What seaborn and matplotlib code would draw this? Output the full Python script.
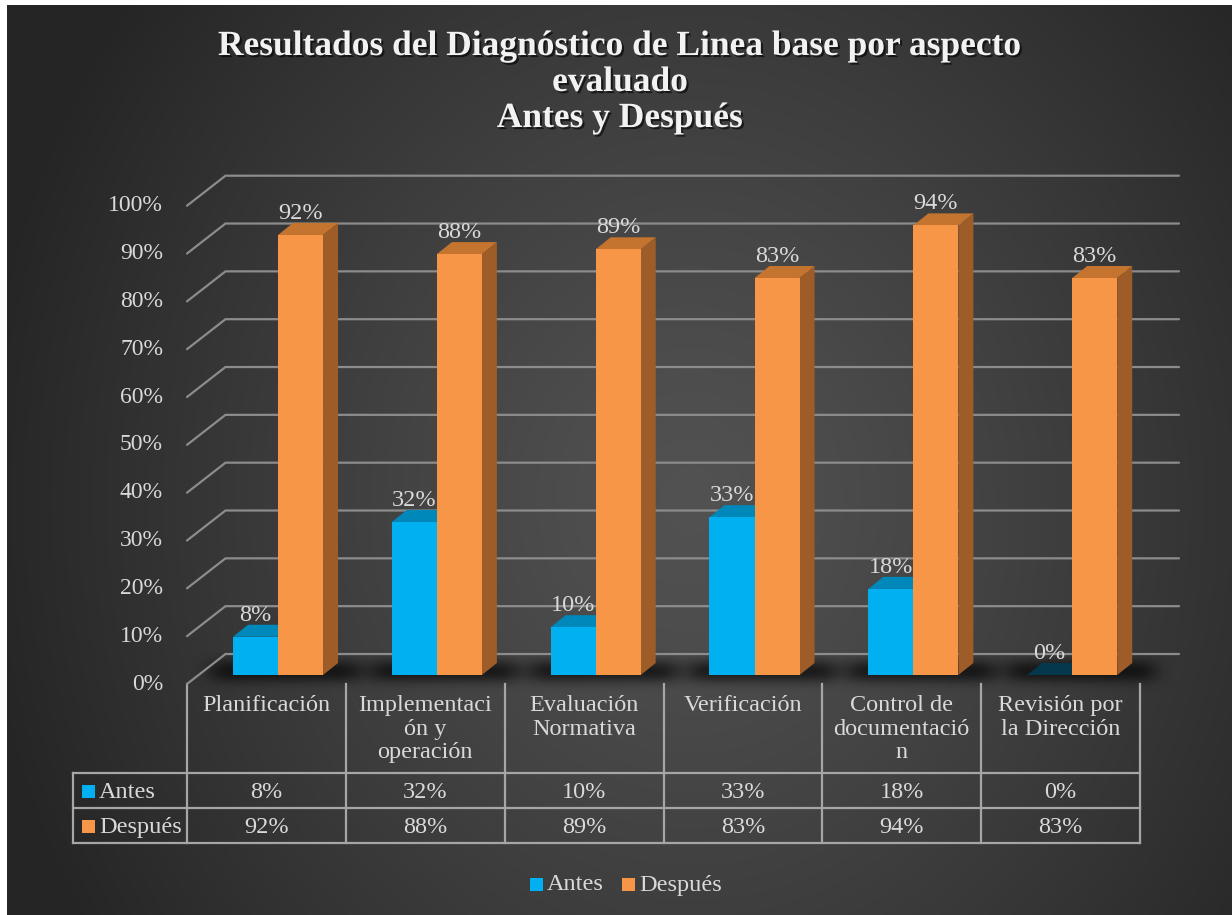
import numpy as np
import pandas as pd
import matplotlib
matplotlib.use("Agg")
import matplotlib.pyplot as plt
from matplotlib.patches import Polygon, Rectangle
from matplotlib import patheffects
import seaborn as sns

# ---- data -------------------------------------------------------------
aspectos = ["Planificación", "Implementación y operación", "Evaluación Normativa",
            "Verificación", "Control de documentación", "Revisión por la Dirección"]
etiquetas_tabla = ["Planificación", "Implementaci\nón y\noperación", "Evaluación\nNormativa",
                   "Verificación", "Control de\ndocumentació\nn", "Revisión por\nla Dirección"]
antes = [8, 32, 10, 33, 18, 0]
despues = [92, 88, 89, 83, 94, 83]
series = ["Antes", "Después"]
ticks = list(range(0, 101, 10))
titulo = ["Resultados del Diagnóstico de Linea base por aspecto", "evaluado", "Antes y Después"]

# ---- styling ----------------------------------------------------------
W, H = 1232, 915
front = {"Antes": "#00B0F0", "Después": "#F79646"}
top_c = {"Antes": "#0088BA", "Después": "#C4742F"}
side_c = {"Antes": "#0076A6", "Después": "#9E5D28"}
TXT = "#d9d9d9"
GRID = "#8c8c8c"
TABLE = "#a6a6a6"
FS = 17.5
FS_AX = 17

sns.set_theme(style="white")
plt.rcParams["font.family"] = ["Liberation Serif", "DejaVu Serif"]

fig = plt.figure(figsize=(W / 100, H / 100), dpi=100, facecolor="white")

# background layer in pixel coordinates (y grows downward)
bg = fig.add_axes([0, 0, 1, 1], zorder=0)
bg.axis("off")

yy, xx = np.mgrid[5:H, 7:W].astype(float)
r = np.sqrt(((xx - 690) / 720) ** 2 + ((yy - 500) / 820) ** 2)
t = np.clip(r, 0, 1) ** 1.2
c_in, c_out = np.array([0x52, 0x52, 0x52]) / 255, np.array([0x25, 0x25, 0x25]) / 255
grad = c_in[None, None, :] * (1 - t[..., None]) + c_out[None, None, :] * t[..., None]
bg.imshow(grad, extent=(7, W, H, 5), aspect="auto", zorder=0, interpolation="bilinear")
bg.set_xlim(0, W)
bg.set_ylim(H, 0)

# ---- plot area ----------------------------------------------------------
AX_L, AX_R, Y0, Y100 = 187, 1140, 675, 196.7
ax = fig.add_axes([AX_L / W, 1 - Y0 / H, (AX_R - AX_L) / W, (Y0 - Y100) / H], zorder=2)
ax.patch.set_alpha(0)

df = pd.DataFrame({
    "aspecto": aspectos * 2,
    "momento": ["Antes"] * len(aspectos) + ["Después"] * len(aspectos),
    "valor": antes + despues,
})
sns.barplot(data=df, x="aspecto", y="valor", hue="momento", hue_order=series,
            palette=front, width=0.567, dodge=True, errorbar=None, saturation=1,
            linewidth=0, legend=False, ax=ax)
L = -0.573
ax.set_xlim(L, L + 6)
ax.set_ylim(0, 100)
ax.axis("off")

def shift(x, y, dx=0.0, dy=0.0):
    """Data point moved by (dx, dy) screen pixels (dy upward)."""
    X, Y = ax.transData.transform((x, y))
    return ax.transData.inverted().transform((X + dx, Y + dy))

def to_px(x, y):
    X, Y = ax.transData.transform((x, y))
    return X, H - Y

DX, DY = 15, 12  # bar depth

# back wall / floor gridlines and value axis labels
for v in ticks:
    f = shift(L, v, 0, -9)
    b = shift(L, v, 38.5, 21)
    e = shift(L + 6, v, 39, 21)
    ax.plot([f[0], b[0], e[0]], [f[1], b[1], e[1]], color=GRID, lw=1.6,
            clip_on=False, zorder=1, solid_joinstyle="miter")
    p = shift(L, v, -24, -9)
    ax.text(p[0], p[1], f"{v}%", ha="right", va="center", fontsize=FS_AX,
            color=TXT, clip_on=False)

# 3D faces for each bar
extents = []
for k, (cont, name) in enumerate(zip(ax.containers, series)):
    z = 3 if k == 0 else 6
    for i, bar in enumerate(cont):
        x0, w, h = bar.get_x(), bar.get_width(), bar.get_height()
        x1 = x0 + w
        bar.set_zorder(z + 1)
        tc = top_c[name] if h > 0 else "#05384C"
        top = [(x0, h), (x1, h), tuple(shift(x1, h, DX, DY)), tuple(shift(x0, h, DX, DY))]
        side = [(x1, 0), (x1, h), tuple(shift(x1, h, DX, DY)), tuple(shift(x1, 0, DX, DY))]
        ax.add_patch(Polygon(side, closed=True, fc=side_c[name], ec="none", zorder=z, clip_on=False))
        ax.add_patch(Polygon(top, closed=True, fc=tc, ec="none", zorder=z + 0.5, clip_on=False))
        lp = shift(x0 + w / 2, h, 0, DY + 4)
        ax.text(lp[0], lp[1], f"{h:.0f}%", ha="center", va="baseline", fontsize=FS,
                color=TXT, zorder=10, clip_on=False)
        if k == 0:
            extents.append([to_px(x0, 0)[0], None])
        else:
            extents[i][1] = to_px(x1, 0)[0] + DX

# soft floor shadow below each pair of bars
mask = np.zeros((H, W))
for xl, xr in extents:
    mask[662:680, int(xl - 20):int(xr + 22)] = 1.0

def box_blur(a, rad, axis):
    pad = [(0, 0), (0, 0)]
    pad[axis] = (rad + 1, rad)
    c = np.cumsum(np.pad(a, pad, mode="edge"), axis=axis)
    if axis == 0:
        return (c[2 * rad + 1:] - c[:-2 * rad - 1]) / (2 * rad + 1)
    return (c[:, 2 * rad + 1:] - c[:, :-2 * rad - 1]) / (2 * rad + 1)

for _ in range(3):
    mask = box_blur(mask, 5, 0)
    mask = box_blur(mask, 9, 1)
shadow = np.zeros((H, W, 4))
shadow[..., 3] = np.clip(mask * 0.7, 0, 1)
bg.imshow(shadow, extent=(0, W, H, 0), aspect="auto", zorder=1)
bg.set_xlim(0, W)
bg.set_ylim(H, 0)

# ---- data table ---------------------------------------------------------
cols = [AX_L + i * (AX_R - AX_L) / 6 for i in range(7)]
ROW_TOP, ROW1, ROW2, ROW3 = 684, 773, 808, 843
TAB_L = 73
lk = dict(color=TABLE, lw=1.6, zorder=3, solid_capstyle="projecting")
for c in cols:
    bg.plot([c, c], [ROW_TOP, ROW3], **lk)
bg.plot([TAB_L, TAB_L], [ROW1, ROW3], **lk)
for yv in (ROW1, ROW2, ROW3):
    bg.plot([TAB_L, AX_R], [yv, yv], **lk)

for i, lab in enumerate(etiquetas_tabla):
    cx = (cols[i] + cols[i + 1]) / 2
    bg.text(cx, 695, lab, ha="center", va="top", fontsize=FS, color=TXT,
            linespacing=1.17, zorder=4)
    bg.text(cx, (ROW1 + ROW2) / 2 + 2, f"{antes[i]}%", ha="center", va="center",
            fontsize=FS, color=TXT, zorder=4)
    bg.text(cx, (ROW2 + ROW3) / 2 + 2, f"{despues[i]}%", ha="center", va="center",
            fontsize=FS, color=TXT, zorder=4)

for name, yc in zip(series, ((ROW1 + ROW2) / 2, (ROW2 + ROW3) / 2)):
    bg.add_patch(Rectangle((82, yc - 6), 13, 13, fc=front[name], ec="none", zorder=4))
    bg.text(99, yc + 2, name, ha="left", va="center", fontsize=FS, color=TXT, zorder=4)

# ---- legend -------------------------------------------------------------
for name, x_sq in zip(series, (530, 622)):
    bg.add_patch(Rectangle((x_sq, 877.5), 13, 13, fc=front[name], ec="none", zorder=4))
    bg.text(x_sq + 17, 885, name, ha="left", va="center", fontsize=FS, color=TXT, zorder=4)

# ---- title --------------------------------------------------------------
shadow_fx = [patheffects.withSimplePatchShadow(offset=(1.5, -1.5), shadow_rgbFace="black", alpha=0.6)]
for line, base in zip(titulo, (55, 91, 127)):
    bg.text(620, base, line, ha="center", va="baseline", fontsize=25.5, fontweight="bold",
            color="#f2f2f2", zorder=5, path_effects=shadow_fx)

fig.savefig("out.png", dpi=100, facecolor="white")
